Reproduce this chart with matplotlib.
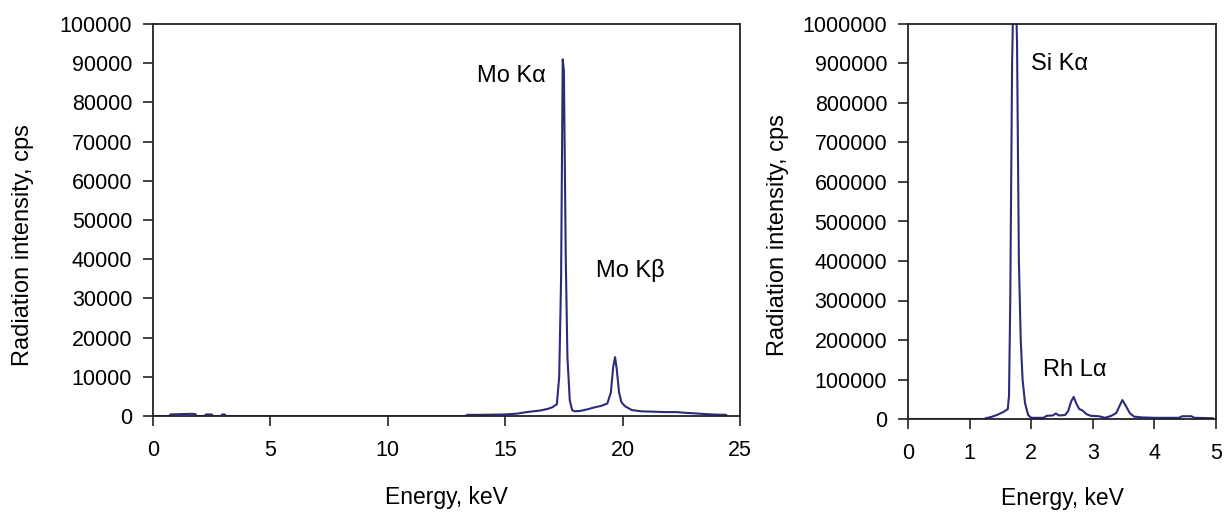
import matplotlib
matplotlib.use("Agg")
import matplotlib.pyplot as plt

plt.rcParams["font.family"] = ["Liberation Sans", "DejaVu Sans"]

# Mo target spectrum (left panel)
mo_energy = [0, 0.7, 0.75, 1.0, 1.3, 1.6, 1.8, 1.85, 2.2, 2.25, 2.5, 2.55, 2.9, 2.95,
             3.05, 3.1, 13.3, 13.4, 14.0, 14.5, 15.0, 15.5, 15.8, 16.2, 16.5, 16.8,
             17.0, 17.2, 17.3, 17.38, 17.45, 17.5, 17.58, 17.65, 17.75, 17.85, 17.95,
             18.2, 18.5, 18.8, 19.1, 19.35, 19.5, 19.6, 19.68, 19.75, 19.85, 19.95,
             20.1, 20.4, 20.8, 21.3, 21.8, 22.3, 22.7, 23.0, 23.5, 24.0, 24.4, 24.45]
mo_counts = [0, 0, 400, 450, 500, 550, 500, 0, 0, 400, 400, 0, 0, 400,
             400, 0, 0, 300, 300, 350, 400, 600, 900, 1200, 1400, 1800,
             2200, 3000, 10000, 35000, 91000, 88000, 40000, 15000, 4000, 1500, 1200,
             1300, 1700, 2200, 2600, 3200, 6000, 12500, 15000, 12000, 6000, 3500,
             2500, 1500, 1200, 1100, 1000, 1000, 800, 700, 500, 350, 300, 0]

# Si sample spectrum (right panel)
si_energy = [0, 1.25, 1.26, 1.35, 1.44, 1.55, 1.62, 1.64, 1.66, 1.69, 1.73, 1.77,
             1.80, 1.83, 1.86, 1.90, 1.95, 2.0, 2.2, 2.25, 2.35, 2.4, 2.45, 2.55,
             2.6, 2.65, 2.69, 2.73, 2.78, 2.83, 2.9, 2.97, 3.1, 3.2, 3.3, 3.38,
             3.44, 3.48, 3.53, 3.6, 3.67, 3.8, 4.0, 4.4, 4.45, 4.6, 4.65, 4.8,
             4.95, 4.96]
si_counts = [0, 0, 2000, 5000, 10000, 18000, 25000, 60000, 300000, 900000, 1250000, 950000,
             400000, 200000, 100000, 40000, 10000, 3000, 3000, 8000, 9000, 14000, 9000, 10000,
             20000, 45000, 56000, 40000, 25000, 22000, 12000, 8000, 7000, 3000, 8000, 15000,
             35000, 48000, 35000, 15000, 6000, 4000, 3000, 3000, 7000, 7000, 3000, 2500,
             2000, 0]

line_color = "#2b2b7c"

fig = plt.figure(figsize=(12.25, 5.18), dpi=100)
ax1 = fig.add_axes([153 / 1225, (518 - 416) / 518, 587 / 1225, 392 / 518])
ax2 = fig.add_axes([908 / 1225, (518 - 419) / 518, 308 / 1225, 395 / 518])

for ax in (ax1, ax2):
    for sp in ax.spines.values():
        sp.set_linewidth(1.3)
        sp.set_color("#222222")
    ax.tick_params(direction="out", length=7, width=1.2, labelsize=15.5,
                   colors="#222222", labelcolor="black")
    ax.tick_params(axis="x", pad=10)
    ax.tick_params(axis="y", pad=8)
    ax.ticklabel_format(style="plain", useOffset=False)
    ax.set_xlabel("Energy, keV", fontsize=16.5)
    ax.set_ylabel("Radiation intensity, cps", fontsize=17)

ax1.xaxis.set_label_coords(0.5, -0.178)
ax1.yaxis.set_label_coords(-0.203, 0.435)
ax2.xaxis.set_label_coords(0.5, -0.172)
ax2.yaxis.set_label_coords(-0.385, 0.465)

ax1.plot(mo_energy, mo_counts, color=line_color, lw=1.5)
ax1.set_xlim(0, 25)
ax1.set_ylim(0, 100000)
ax1.set_xticks(range(0, 26, 5))
ax1.set_yticks(range(0, 100001, 10000))
ax1.text(13.8, 86700, "Mo K\u03b1", fontsize=17, va="center")
ax1.text(18.85, 37200, "Mo K\u03b2", fontsize=17, va="center")

ax2.plot(si_energy, si_counts, color=line_color, lw=1.5)
ax2.set_xlim(0, 5)
ax2.set_ylim(0, 1000000)
ax2.set_xticks(range(0, 6))
ax2.set_yticks(range(0, 1000001, 100000))
ax2.text(2.0, 899000, "Si K\u03b1", fontsize=17, va="center")
ax2.text(2.19, 124000, "Rh L\u03b1", fontsize=17, va="center")

fig.savefig("out.png", dpi=100)
